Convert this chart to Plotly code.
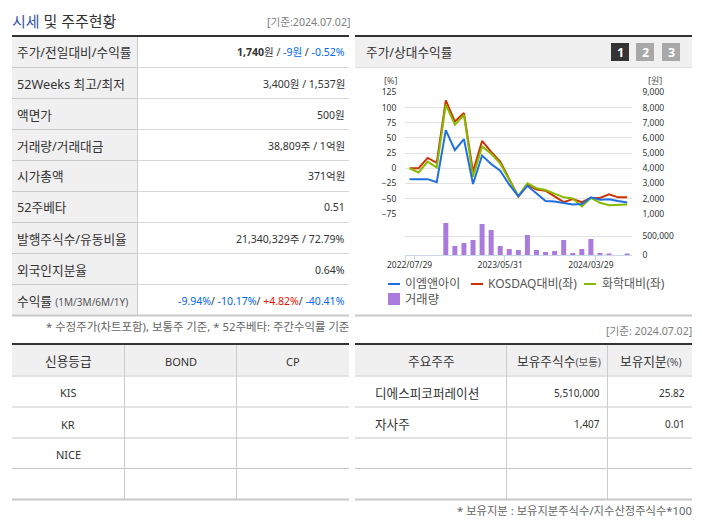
import plotly.graph_objects as go

W = 702
H = 525
FONT = "Noto Sans, Noto Sans CJK KR"

# chart data
stock_price = [3280, 3280, 3280, 3080, 6520, 5200, 5920, 2960, 4840, 4280, 3840, 2920, 2160, 2840, 2320,
               1840, 1800, 1680, 1600, 1640, 2080, 1920, 1960, 1840, 1740]
kosdaq_rel = [0, 0, 17, 9, 112, 77, 91, -6, 45, 27, 11, -18, -47, -27, -35,
              -37, -47, -56, -51, -56, -49, -49, -43, -48, -48]
chem_rel = [0, -7, 11, 1, 105, 72, 88, -14, 36, 24, 8, -19, -46, -25, -33,
            -36, -42, -48, -50, -63, -49, -57, -61, -61, -60]
volume = [0, 0, 0, 0, 857000, 241000, 321000, 402000, 830000, 670000, 241000, 161000,
          134000, 536000, 134000, 80000, 107000, 402000, 54000, 161000, 429000, 54000,
          20000, 0, 22000]
periods = list(range(25))
date_ticks = [0, 10, 20]
date_labels = ["2022/07/29", "2023/05/31", "2024/03/29"]
left_ticks = [125, 100, 75, 50, 25, 0, -25, -50, -75]
right_ticks = [9000, 8000, 7000, 6000, 5000, 4000, 3000, 2000, 1000]

# table text
BLUE = "#0066ee"
RED = "#ee1100"
summary_labels = ["주가/전일대비/수익률", "52Weeks 최고/최저", "액면가", "거래량/거래대금", "시가총액",
                  "52주베타", "발행주식수/유동비율", "외국인지분율",
                  '수익률 <span style="font-size:10px;color:#555">(1M/3M/6M/1Y)</span>']
summary_values = [
    f'<b>1,740</b>원 / <span style="color:{BLUE}">-9원</span> / <span style="color:{BLUE}">-0.52%</span>',
    "3,400원 / 1,537원", "500원", "38,809주 / 1억원", "371억원", "0.51",
    "21,340,329주 / 72.79%", "0.64%",
    f'<span style="color:{BLUE}">-9.94%</span>/ <span style="color:{BLUE}">-10.17%</span>/ '
    f'<span style="color:{RED}">+4.82%</span>/ <span style="color:{BLUE}">-40.41%</span>',
]
rating_header = ["신용등급", "BOND", "CP"]
rating_rows = ["KIS", "KR", "NICE"]
holder_header = ["주요주주", '보유주식수<span style="font-size:10.5px;color:#555">(보통)</span>',
                 '보유지분<span style="font-size:10.5px;color:#555">(%)</span>']
holder_names = ["디에스피코퍼레이션", "자사주"]
holder_shares = ["5,510,000", "1,407"]
holder_pct = ["25.82", "0.01"]


def px(x):
    return x / W


def py(y):
    return 1 - y / H


shapes = []
annotations = []


def rect(x0, y0, x1, y1, color):
    shapes.append(dict(type="rect", xref="paper", yref="paper", layer="below",
                       x0=px(x0), x1=px(x1), y0=py(y0), y1=py(y1),
                       fillcolor=color, line=dict(width=0)))


def hline(x0, x1, y, color="#d8d8d8", width=1):
    rect(x0, y - width / 2, x1, y + width / 2, color)


def vline(x, y0, y1, color="#cccccc"):
    rect(x - 0.5, y0, x + 0.5, y1, color)


def text(x, y, s, anchor="left", size=12, color="#333333"):
    annotations.append(dict(xref="paper", yref="paper", x=px(x), y=py(y), text=s,
                            showarrow=False, xanchor=anchor, yanchor="middle",
                            font=dict(family=FONT, size=size, color=color),
                            borderpad=0, borderwidth=0))


# left summary table
text(12, 21, '<span style="color:#3355aa">시세</span> 및 주주현황', size=15, color="#333333")
text(349.5, 22, "[기준:2024.07.02]", "right", 10.6, "#808080")
rect(12, 35, 349, 37, "#333333")
rect(12, 37, 137, 315, "#f0f0f0")
vline(137.5, 37, 315)
for i, (label, value) in enumerate(zip(summary_labels, summary_values)):
    y = 52.5 + 31 * i
    text(17, y, label, size=12.7)
    text(345, y, value, "right", size=10.5)
    if i < 8:
        hline(137, 349, 67.5 + 31 * i)
        hline(12, 137, 67.5 + 31 * i, "#c8c8c8")
hline(12, 349, 315.5, "#c8c8c8", 2)
text(349, 326.5, "* 수정주가(차트포함), 보통주 기준, * 52주베타: 주간수익률 기준", "right", 11.4, "#666666")

# chart panel header
rect(355, 35, 692, 37, "#333333")
rect(355, 37, 692, 67, "#f0f0f0")
hline(355, 692, 67.5, "#dddddd")
text(366, 52, "주가/상대수익률", size=12.7)
for x0, label, color in [(611, "1", "#333333"), (636, "2", "#a8a8a8"), (662, "3", "#a8a8a8")]:
    rect(x0, 43, x0 + 18, 61, color)
    text(x0 + 9, 52, f"<b>{label}</b>", "center", 12.5, "#ffffff")
text(391, 80, "[%]", "center", 9, "#555555")
text(655, 80, "[원]", "center", 9, "#555555")
hline(355, 692, 315.5, "#c8c8c8", 2)
text(692, 331, "[기준: 2024.07.02]", "right", 10.6, "#808080")

# chart legend
legend_rows = [(388, 405, 284, "#1f6fe0", "이엠앤아이"),
               (471, 488, 284, "#cc3300", "KOSDAQ대비(좌)"),
               (584, 602, 284, "#88bb00", "화학대비(좌)")]
for x0, tx, y, color, name in legend_rows:
    rect(x0, y - 1, x0 + 12, y + 1, color)
    text(tx, y - 1, name, size=12, color="#555555")
rect(388, 293, 400, 305, "#aa7bdd")
text(405, 299, "거래량", size=12.3, color="#555555")

# lower left table
rect(12, 343, 349, 345, "#333333")
rect(12, 345, 349, 375, "#f0f0f0")
for y in [376, 407, 438, 468.5]:
    hline(12, 349, y, "#c8c8c8")
hline(12, 349, 499.5, "#c8c8c8", 2)
for x in [124.5, 236.5]:
    vline(x, 345, 499)
for x, label, size in zip([68, 181, 293], rating_header, [12.7, 11, 11]):
    text(x, 361, label, "center", size)
for y, label in zip([392.5, 424, 454.5], rating_rows):
    text(68, y, label, "center", 11)

# lower right table
rect(355, 343, 692, 345, "#333333")
rect(355, 345, 692, 375, "#f0f0f0")
for y in [376, 407, 438, 468.5]:
    hline(355, 692, y, "#c8c8c8")
hline(355, 692, 499.5, "#c8c8c8", 2)
for x in [506.5, 607.5]:
    vline(x, 345, 499)
for x, label in zip([431, 558.5, 651], holder_header):
    text(x, 361, label, "center", 12.7)
for i, name in enumerate(holder_names):
    y = 393 + 31 * i
    text(374.5, y, name, size=12.6)
    text(600, y, holder_shares[i], "right", 10)
    text(685, y, holder_pct[i], "right", 10)
text(692, 510.5, "* 보유지분 : 보유지분주식수/지수산정주식수*100", "right", 11.3, "#666666")

fig = go.Figure()
fig.add_trace(go.Bar(x=periods, y=volume, name="거래량", marker=dict(color="#aa7bdd", line=dict(width=0)),
                     xaxis="x", yaxis="y3"))
# the stock itself is in won on the right axis, the two comparisons in % on the left
fig.add_trace(go.Scatter(x=periods, y=stock_price, mode="lines", name="이엠앤아이",
                         line=dict(color="#1f6fe0", width=2), xaxis="x", yaxis="y2"))
fig.add_trace(go.Scatter(x=periods, y=kosdaq_rel, mode="lines", name="KOSDAQ대비(좌)",
                         line=dict(color="#cc3300", width=2), xaxis="x", yaxis="y"))
fig.add_trace(go.Scatter(x=periods, y=chem_rel, mode="lines", name="화학대비(좌)",
                         line=dict(color="#88bb00", width=2), xaxis="x", yaxis="y"))

tick_font = dict(family=FONT, size=8.5, color="#333333")
fig.update_layout(
    width=W,
    height=H,
    margin=dict(l=0, r=0, t=0, b=0),
    paper_bgcolor="white",
    plot_bgcolor="rgba(0,0,0,0)",
    showlegend=False,
    bargap=0.45,
    shapes=shapes,
    annotations=annotations,
    font=dict(family=FONT),
    xaxis=dict(domain=[px(405), px(631.7)], range=[-0.5, 24.5], anchor="y3", automargin=False,
               tickmode="array", tickvals=date_ticks, ticktext=date_labels,
               ticks="", ticklabelstandoff=2, showgrid=False, zeroline=False, showline=True,
               linecolor="#ccd6eb", tickfont=tick_font,
               minor=dict(tickmode="array", tickvals=[-0.5, 0.5, 10.5, 20.5], ticks="outside",
                          ticklen=5, tickcolor="#ccd6eb", showgrid=False)),
    yaxis=dict(domain=[py(213.7), py(92.5)], range=[-75, 125], tickmode="array", tickvals=left_ticks,
               ticks="outside", ticklen=6, tickcolor="rgba(0,0,0,0)", gridcolor="#e2e2e2", gridwidth=1,
               zeroline=False, tickfont=tick_font, anchor="x", automargin=False),
    yaxis2=dict(domain=[py(213.7), py(92.5)], range=[1000, 9000], overlaying="y", side="right",
                tickmode="array", tickvals=right_ticks, tickformat=",d",
                ticks="outside", ticklen=8, tickcolor="rgba(0,0,0,0)", showgrid=False,
                zeroline=False, tickfont=tick_font, anchor="x", automargin=False),
    yaxis3=dict(domain=[py(255), py(217.6)], range=[0, 1000000], side="right",
                tickmode="array", tickvals=[0, 500000, 1000000], ticktext=["0", "500,000", ""],
                ticks="outside", ticklen=8, tickcolor="rgba(0,0,0,0)", gridcolor="#e2e2e2",
                zeroline=False, tickfont=tick_font, anchor="x", automargin=False),
)

fig.write_html("out.html", config=dict(displayModeBar=False),
               post_script="document.body.style.margin='0';document.body.style.overflow='hidden';")
